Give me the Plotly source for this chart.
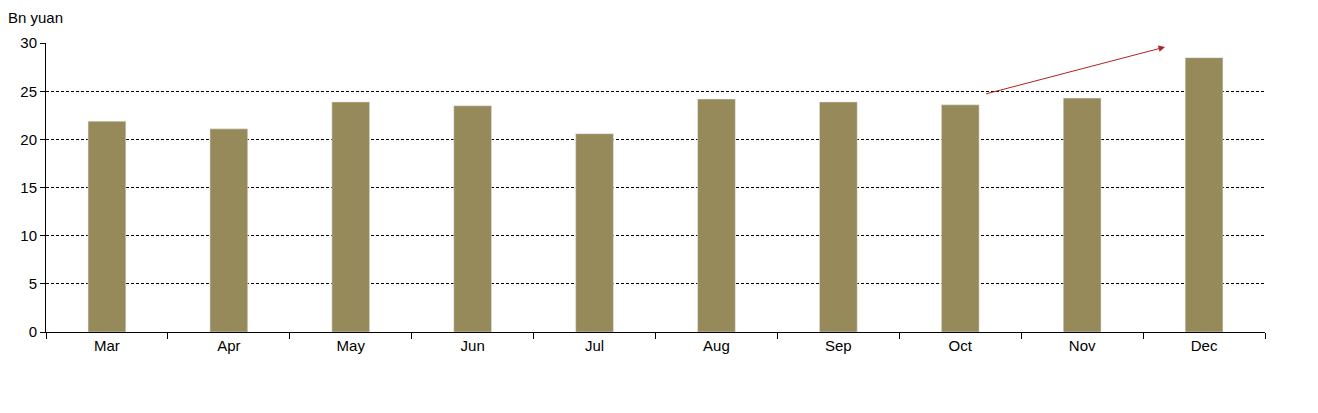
import plotly.graph_objects as go

months = ["Mar", "Apr", "May", "Jun", "Jul", "Aug", "Sep", "Oct", "Nov", "Dec"]
values = [21.9, 21.1, 23.9, 23.5, 20.6, 24.2, 23.9, 23.6, 24.3, 28.5]

fig = go.Figure(go.Bar(x=months, y=values, marker_color="#978a5a"))
fig.update_layout(
    width=1318, height=413,
    margin=dict(l=36, r=61, t=35, b=89),
    plot_bgcolor="white", paper_bgcolor="white",
    bargap=0.69, showlegend=False,
    font=dict(family="Liberation Sans, Arial", size=15, color="black"),
)
fig.update_xaxes(showline=True, linecolor="black", ticks="outside", tickson="boundaries",
                 ticklen=6, tickcolor="black", showgrid=False)
fig.update_yaxes(range=[0, 30.02], tickvals=[0, 5, 10, 15, 20, 25, 30], showline=True,
                 linecolor="black", ticks="outside",
                 ticklen=5, tickcolor="black", showgrid=True, gridcolor="black",
                 griddash="3px,2px", gridwidth=0.8, zeroline=False)
fig.add_annotation(x=8.68, y=29.6, ax=7.2, ay=24.7, xref="x", yref="y", axref="x", ayref="y",
                   showarrow=True, arrowhead=2, arrowsize=1.3, arrowwidth=1, arrowcolor="#b22222", text="")
fig.add_annotation(x=0, y=1, xref="paper", yref="paper", xshift=-40, yshift=15, text="Bn yuan",
                   showarrow=False, xanchor="left", yanchor="bottom", font=dict(size=15))
fig.write_html("out.html")
